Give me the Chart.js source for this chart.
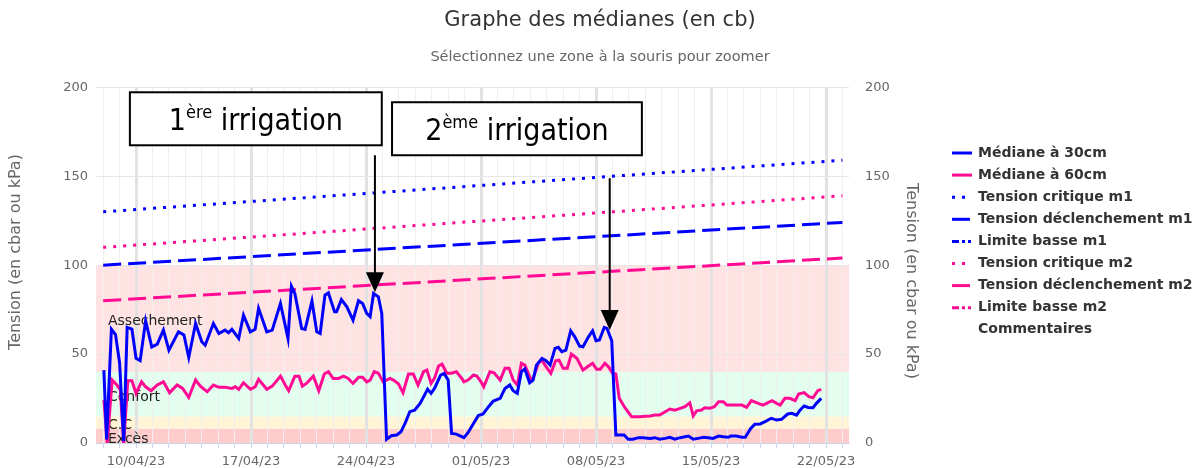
<!DOCTYPE html>
<html><head><meta charset="utf-8">
<script src="https://cdn.jsdelivr.net/npm/chart.js@4.4.1/dist/chart.umd.min.js"></script>
<style>html,body{margin:0;padding:0;background:#fff;}#wrap{width:1200px;height:468px;}</style>
</head><body><div id="wrap"><canvas id="c" width="1200" height="468"></canvas></div>
<script>
// ---------- DATA ----------
const YEAR = 2023;
const tickLabels = ['10/04/23','17/04/23','24/04/23','01/05/23','08/05/23','15/05/23','22/05/23'];
const yTicks = [0, 50, 100, 150, 200];
const axisStart = '07/04 13.5';
const axisEnd = '23/05 09.6';

const t30 = ['08/04 01','08/04 05','08/04 12','08/04 18','09/04 00','09/04 06','09/04 11','09/04 18','10/04 00','10/04 06','10/04 14','10/04 23','11/04 07','11/04 16','12/04 00','12/04 14','12/04 22','13/04 05','13/04 15','14/04 00','14/04 05','14/04 17','15/04 01','15/04 10','15/04 15','15/04 20','16/04 06','16/04 13','16/04 23','17/04 06','17/04 11','17/04 23','18/04 07','18/04 19','19/04 06','19/04 11','19/04 16','20/04 02','20/04 07','20/04 17','21/04 00','21/04 05','21/04 12','21/04 17','22/04 02','22/04 05','22/04 12','22/04 20','23/04 05','23/04 13','23/04 19','24/04 01','24/04 06','24/04 11','24/04 18','24/04 23','25/04 06','25/04 13','25/04 21','26/04 03','26/04 09','26/04 16','26/04 23','27/04 07','27/04 18','27/04 23','28/04 04','28/04 13','28/04 18','29/04 00','29/04 05','29/04 12','29/04 23','30/04 05','30/04 13','30/04 20','01/05 03','01/05 11','01/05 18','02/05 04','02/05 11','02/05 18','02/05 23','03/05 05','03/05 11','03/05 16','03/05 23','04/05 04','04/05 09','04/05 17','04/05 23','05/05 05','05/05 12','05/05 17','05/05 22','06/05 04','06/05 11','06/05 17','07/05 00','07/05 05','07/05 13','07/05 19','08/05 00','08/05 05','08/05 12','08/05 16','08/05 23','09/05 01','09/05 05','09/05 11','09/05 17','09/05 23','10/05 06','10/05 14','10/05 21','11/05 07','11/05 14','11/05 21','12/05 05','12/05 12','12/05 19','13/05 03','13/05 10','13/05 15','13/05 22','14/05 05','14/05 13','14/05 20','15/05 03','15/05 11','15/05 18','16/05 01','16/05 05','16/05 13','16/05 21','17/05 02','17/05 10','17/05 16','18/05 00','18/05 07','18/05 16','19/05 00','19/05 07','19/05 16','19/05 22','20/05 05','20/05 10','20/05 16','20/05 22','21/05 05','21/05 10','21/05 17'];
const v30 = [41,2,64,61, 45,1,65,64, 47.6,46.3,68.7,54, 55.6,63.5, 52.2,62.5,60.7, 48.1,67.2, 56.9,55,67.2, 61.6,63.5,62,63.9, 58.8,71.9,62.5, 63.9,75.7,62.5, 63.5,78.5, 58.8,88.2,84.1, 64.4,63.9,79.9, 62.5,61.6,83.1,84.4, 73.8,73.8,80.7,76.6, 69.1,80,78.5, 72.9,71,84.1,82.2,72.9, 2.1,4.1,4.5, 6.3,11,17.6,18.5, 22.3,30.2,27.9, 30.7,38.2,39.1, 35.4,5.4,5,3, 5.8,11,15.4, 16.3,20.4,23.6, 25.1,30.7,32.6,29.4, 27.9,40.1,41.6,33.9, 35.4,43.8,47.6,46.3, 43.8,53.2,53.8,51.3, 52.2,63.1,59.7, 54.5,54.1,59.7,63.1, 57.5,57.9,65,64.4,57.5, 39.2,4.5,4.5,4.5,2.1, 2.1,3,3, 2.6,3,2.1, 2.6,3.2,2.2, 3,3.5,3.9,2.1, 2.6,3.2,3, 2.6,3.9,3.5, 3.2,3.9,3.9,3.2, 3.2,8.2,10.5, 10.7,12,13.9, 12.9,13.3,16.3,16.7, 15.7,18.5,20.8,20, 19.8,22.3,25.1];

const t60 = ['08/04 01','08/04 06','08/04 13','08/04 20','09/04 01','09/04 06','09/04 12','09/04 18','10/04 00','10/04 08','10/04 14','10/04 22','11/04 07','11/04 16','12/04 01','12/04 12','12/04 20','13/04 05','13/04 15','13/04 22','14/04 08','14/04 17','15/04 01','15/04 10','15/04 20','16/04 01','16/04 06','16/04 13','16/04 23','17/04 06','17/04 11','17/04 23','18/04 07','18/04 19','19/04 02','19/04 07','19/04 16','19/04 22','20/04 03','20/04 09','20/04 19','21/04 03','21/04 11','21/04 17','22/04 00','22/04 08','22/04 15','22/04 22','23/04 05','23/04 13','23/04 19','24/04 01','24/04 06','24/04 12','24/04 18','25/04 01','25/04 11','25/04 16','25/04 23','26/04 06','26/04 14','26/04 21','27/04 04','27/04 12','27/04 17','27/04 23','28/04 04','28/04 10','28/04 15','28/04 22','29/04 05','29/04 12','29/04 20','29/04 23','30/04 05','30/04 13','30/04 18','01/05 00','01/05 04','01/05 13','01/05 19','02/05 04','02/05 11','02/05 17','02/05 23','03/05 05','03/05 11','03/05 16','04/05 00','04/05 04','04/05 12','04/05 17','04/05 23','05/05 06','05/05 13','05/05 18','06/05 00','06/05 06','06/05 12','06/05 20','07/05 05','07/05 13','07/05 19','08/05 01','08/05 06','08/05 13','08/05 19','09/05 00','09/05 05','09/05 10','09/05 18','10/05 04','10/05 16','11/05 00','11/05 07','11/05 14','11/05 21','12/05 05','12/05 12','12/05 19','13/05 03','13/05 10','13/05 17','13/05 22','14/05 03','14/05 10','14/05 15','14/05 22','15/05 05','15/05 11','15/05 18','15/05 23','16/05 21','17/05 04','17/05 11','17/05 21','18/05 04','18/05 17','19/05 00','19/05 05','19/05 12','19/05 19','20/05 03','20/05 08','20/05 16','20/05 23','21/05 05','21/05 12','21/05 17'];
const v60 = [24.2,0,35.4,32.6, 29.8,0,35,35, 27.9,34.4,31.6,29.4, 32.6,34.4, 28.3,32.6,30.7, 25.7,35.4,32, 28.8,32.6, 31.3,31.3,30.7, 31.6,30.2,33.9,30.2, 31.6,35.8,30.2, 32,37.6, 32.6,29.4,37.6,37.6, 32,33.5,37.6, 29.4,38.8,40.1, 36.3,36.3,37.6,36.3, 33.5,36.9,36.9, 34.4,35.4,40.1,39.2, 34.4,36.3,35.4,33.5, 28.3,38.8,38.8, 32.6,40.1,41,33.5, 36.3,43.3,44.4,39.2, 39.2,40.1,36.3,34.4, 35.4,38.2,37.6, 34.4,31.6,40.1,39.5, 35.4,42,42,35.4, 32.6,44.8,43.8, 36.3,36.3,45.1,46.6,42.9, 39.2,46.2,46.6, 42,42,50,47.6, 41,43.3,44.8, 41.4,41.4,44.8,42.5, 39.2,38.8,25.1,20, 14.8,14.8, 15,15.2,15.7,15.7, 17.6,19.1,18.5, 19.5,20.4,22.6,15.2, 18.1,18.5,19.8,19.5, 20.4,23.2,23.2,21.3, 21.3, 20,23.8,22.3, 21.3,23.8, 22.3,21.3,25.1,25.1, 23.8,27.5,28.3,26, 25.4,29.4,30.2];

const refTimes = ['08/04 00', '23/05 00'];
const critiqueM1 = [130, 159];
const declenchementM1 = [100, 124];
const critiqueM2 = [110, 139];
const declenchementM2 = [80, 104];

const bandEdges = [0, 8, 15, 40, 100];
const bandNames = ['Excès', 'C.C', 'Confort', 'Assechement'];

const annotations = [
  { main: '1', sup: 'ère', rest: ' irrigation', boxFrom: '09/04 15', boxTo: '24/04 23', boxTop: 197.2, boxBottom: 167.4,
    arrowAt: '24/04 13', arrowFrom: 161.8, arrowTo: 84.8 },
  { main: '2', sup: 'ème', rest: ' irrigation', boxFrom: '25/04 14', boxTo: '10/05 19', boxTop: 191.6, boxBottom: 161.8,
    arrowAt: '08/05 20', arrowFrom: 148.9, arrowTo: 63.5 }
];

// ---------- HELPERS ----------
const ORIGIN = Date.UTC(YEAR, 3, 10);
function toDay(s) {
  const [dm, h] = s.split(' ');
  const p = dm.split('/').map(Number);
  const y = p[2] ? 2000 + p[2] : YEAR;
  return (Date.UTC(y, p[1] - 1, p[0]) - ORIGIN) / 864e5 + (parseFloat(h) || 0) / 24;
}
const pts = (times, vals) => times.map((t, i) => ({ x: toDay(t), y: vals[i] }));
const tickDays = tickLabels.map(toDay);
const isWeek = v => tickDays.some(d => Math.abs(d - v) < 1e-6);

const BLUE = '#0000ff', PINK = '#ff0a93';
const FONT = "'DejaVu Sans', sans-serif";
Chart.defaults.font.family = FONT;

const overlay = {
  id: 'overlay',
  beforeDraw(chart) {
    const { ctx, chartArea: a, scales: { y } } = chart;
    const colors = ['#ffcccc', '#fff5d6', '#e3fdef', '#ffe3e3'];
    ctx.save();
    for (let i = 0; i < bandNames.length; i++) {
      const yt = y.getPixelForValue(bandEdges[i + 1]), yb = y.getPixelForValue(bandEdges[i]);
      ctx.fillStyle = colors[i];
      ctx.fillRect(a.left, yt, a.right - a.left, yb - yt);
    }
    ctx.restore();
  },
  beforeDatasetsDraw(chart) {
    const { ctx, chartArea: a, scales: { y } } = chart;
    ctx.save();
    ctx.font = '14px ' + FONT; ctx.fillStyle = '#222'; ctx.textBaseline = 'middle'; ctx.textAlign = 'left';
    for (let i = 0; i < bandNames.length; i++) {
      const yc = y.getPixelForValue((bandEdges[i] + bandEdges[i + 1]) / 2) + 3;
      ctx.fillText(bandNames[i], a.left + 12, yc);
    }
    ctx.restore();
  },
  afterDraw(chart) {
    const { ctx, chartArea: a, scales: { x, y } } = chart;
    ctx.save();
    // axis titles
    ctx.font = '16px ' + FONT; ctx.fillStyle = '#666'; ctx.textAlign = 'center'; ctx.textBaseline = 'middle';
    ctx.save(); ctx.translate(16, 252); ctx.rotate(-Math.PI / 2); ctx.fillText('Tension (en cbar ou kPa)', 0, 0); ctx.restore();
    ctx.save(); ctx.translate(911, 281); ctx.rotate(Math.PI / 2); ctx.fillText('Tension (en cbar ou kPa)', 0, 0); ctx.restore();
    // legend
    const lx = a.right + 103, ly = 153, step = 22.1;
    chart.data.datasets.forEach((ds, i) => {
      const yy = ly + i * step;
      if (ds.borderWidth > 0) {
        ctx.save(); ctx.strokeStyle = ds.borderColor; ctx.lineWidth = ds.borderWidth; ctx.setLineDash(ds.borderDash || []);
        ctx.beginPath(); ctx.moveTo(lx, yy); ctx.lineTo(lx + 20, yy); ctx.stroke(); ctx.restore();
      }
      ctx.font = 'bold 14px ' + FONT; ctx.fillStyle = '#333'; ctx.textAlign = 'left'; ctx.textBaseline = 'middle';
      ctx.fillText(ds.label, lx + 26, yy);
    });
    // annotations
    const AF = "'Liberation Sans Narrow', 'DejaVu Sans Condensed', sans-serif";
    annotations.forEach(an => {
      const x0 = x.getPixelForValue(toDay(an.boxFrom)), x1 = x.getPixelForValue(toDay(an.boxTo));
      const y0 = y.getPixelForValue(an.boxTop), y1 = y.getPixelForValue(an.boxBottom);
      ctx.fillStyle = '#fff'; ctx.fillRect(x0, y0, x1 - x0, y1 - y0);
      ctx.strokeStyle = '#000'; ctx.lineWidth = 2; ctx.setLineDash([]); ctx.strokeRect(x0, y0, x1 - x0, y1 - y0);
      const F = 30;
      const fMain = F + 'px ' + AF, fSup = Math.round(F * 0.6) + 'px ' + AF;
      ctx.font = fMain; const w1 = ctx.measureText(an.main).width, w3 = ctx.measureText(an.rest).width;
      ctx.font = fSup; const w2 = ctx.measureText(an.sup).width;
      let tx = (x0 + x1) / 2 - (w1 + w2 + w3) / 2; const base = (y0 + y1) / 2 + F * 0.36;
      ctx.fillStyle = '#000'; ctx.textAlign = 'left'; ctx.textBaseline = 'alphabetic';
      ctx.font = fMain; ctx.fillText(an.main, tx, base); tx += w1;
      ctx.font = fSup; ctx.fillText(an.sup, tx, base - F * 0.38); tx += w2;
      ctx.font = fMain; ctx.fillText(an.rest, tx, base);
      const ax = x.getPixelForValue(toDay(an.arrowAt)), ayf = y.getPixelForValue(an.arrowFrom), ayt = y.getPixelForValue(an.arrowTo);
      ctx.beginPath(); ctx.moveTo(ax, ayf); ctx.lineTo(ax, ayt - 18); ctx.lineWidth = 2; ctx.stroke();
      ctx.beginPath(); ctx.moveTo(ax - 9, ayt - 20); ctx.lineTo(ax + 9, ayt - 20); ctx.lineTo(ax, ayt); ctx.closePath(); ctx.fill();
    });
    ctx.restore();
  }
};

const lineDs = (label, data, color, dash, width) => ({
  label, data, borderColor: color, backgroundColor: color, borderWidth: width, borderDash: dash,
  pointRadius: 0, pointHoverRadius: 0, tension: 0, fill: false, yAxisID: 'y'
});

new Chart(document.getElementById('c'), {
  type: 'line',
  data: {
    datasets: [
      lineDs('Médiane à 30cm', pts(t30, v30), BLUE, [], 3),
      lineDs('Médiane à 60cm', pts(t60, v60), PINK, [], 3),
      lineDs('Tension critique m1', pts(refTimes, critiqueM1), BLUE, [3, 7], 3),
      lineDs('Tension déclenchement m1', pts(refTimes, declenchementM1), BLUE, [18, 7], 3),
      lineDs('Limite basse m1', [], BLUE, [7, 3, 3, 3, 3, 3], 3),
      lineDs('Tension critique m2', pts(refTimes, critiqueM2), PINK, [3, 7], 3),
      lineDs('Tension déclenchement m2', pts(refTimes, declenchementM2), PINK, [18, 7], 3),
      lineDs('Limite basse m2', [], PINK, [7, 3, 3, 3, 3, 3], 3),
      lineDs('Commentaires', [], '#333', [], 0)
    ]
  },
  options: {
    responsive: false, animation: false, devicePixelRatio: 1,
    layout: { padding: 0 },
    plugins: {
      legend: { display: false }, tooltip: { enabled: false },
      title: { display: true, text: 'Graphe des médianes (en cb)', color: '#333', font: { size: 21, weight: 'normal' }, padding: { top: 8, bottom: 8 } },
      subtitle: { display: true, text: 'Sélectionnez une zone à la souris pour zoomer', color: '#666', font: { size: 14.5, weight: 'normal' }, padding: { top: 7.1, bottom: 21.6 } }
    },
    scales: {
      x: {
        type: 'linear', min: toDay(axisStart), max: toDay(axisEnd),
        afterBuildTicks: s => { const t = []; for (let d = Math.ceil(s.min); d <= s.max; d++) t.push({ value: d }); s.ticks = t; },
        afterFit: s => { s.height = 25; },
        ticks: { autoSkip: false, maxRotation: 0, minRotation: 0, padding: 7, color: '#666', font: { size: 13, lineHeight: 1 },
          callback: v => { const i = tickDays.findIndex(d => Math.abs(d - v) < 1e-6); return i >= 0 ? tickLabels[i] : ''; } },
        grid: { color: c => isWeek(c.tick.value) ? '#e2e2e2' : '#efefef', lineWidth: c => isWeek(c.tick.value) ? 3 : 1,
          tickLength: 5, tickColor: '#ccd6eb', tickWidth: 1 },
        border: { display: true, color: '#ccd6eb', width: 1 }
      },
      y: {
        position: 'left', min: 0, max: 200, afterBuildTicks: s => { s.ticks = yTicks.map(v => ({ value: v })); },
        ticks: { color: '#666', padding: 8, font: { size: 13 } },
        grid: { color: '#e6e6e6', drawTicks: false }, border: { display: false },
        afterFit: s => { s.width = 96; }
      },
      y2: {
        position: 'right', min: 0, max: 200, afterBuildTicks: s => { s.ticks = yTicks.map(v => ({ value: v })); },
        ticks: { color: '#666', padding: 16, font: { size: 13 } },
        grid: { display: false, drawTicks: false }, border: { display: false },
        afterFit: s => { s.width = 351; }
      }
    }
  },
  plugins: [overlay]
});
</script></body></html>
